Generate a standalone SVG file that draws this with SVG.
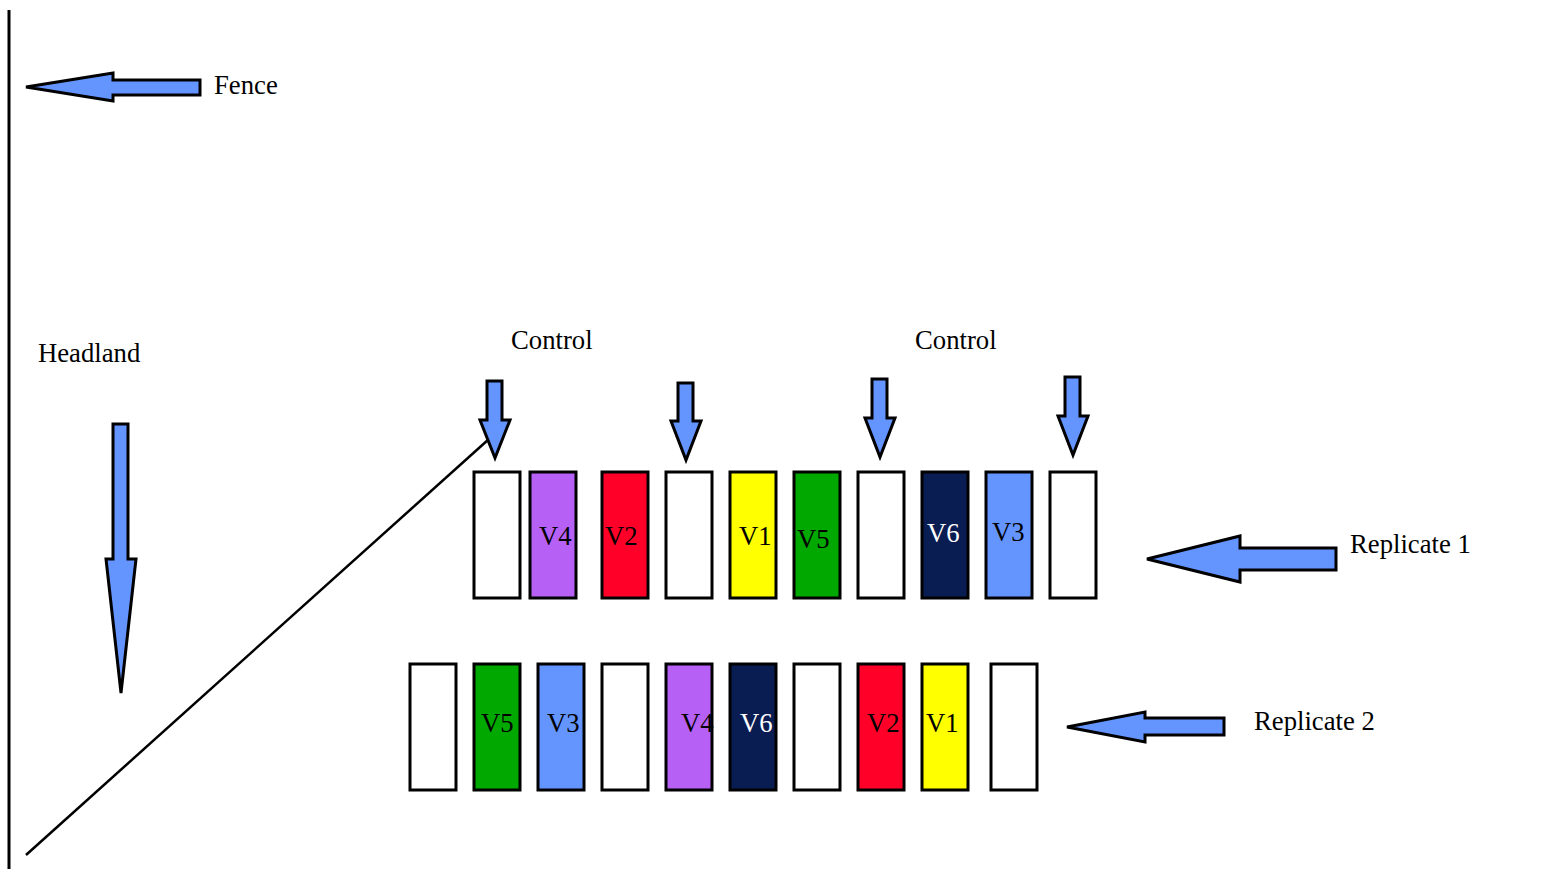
<svg xmlns="http://www.w3.org/2000/svg" width="1542" height="869" viewBox="0 0 1542 869">
<style>
.t{font-family:"Liberation Serif","Times New Roman",serif;font-size:26.7px;fill:#000}
.w{fill:#fff}
.plot{stroke:#000;stroke-width:3}
.arr{fill:#6495ff;stroke:#000;stroke-width:3;stroke-linejoin:miter}
.e{fill:#fff}.p{fill:#b660f5}.r{fill:#ff0028}.y{fill:#ffff00}.g{fill:#00a800}.n{fill:#0a1d52}.b{fill:#6495ff}
</style>
<rect width="1542" height="869" fill="#fff"/>
<g id="fence">
<line x1="9" y1="10" x2="9" y2="869" stroke="#000" stroke-width="3"/>
<polygon class="arr" points="26,87 113,73 113,80 200,80 200,95 113,95 113,101"/>
<text class="t" x="214" y="94">Fence</text>
</g>
<g id="headland">
<text class="t" x="38" y="362">Headland</text>
<polygon class="arr" points="113,424 128,424 128,559 136,559 121,693 106,559 113,559"/>
</g>
<g id="connectors">
<line x1="26" y1="855" x2="489" y2="439" stroke="#000" stroke-width="2.5"/>
</g>
<g id="controls">
<text class="t" x="511" y="349">Control</text>
<text class="t" x="915" y="349">Control</text>
<polygon class="arr" points="487,381 502,381 502,420 510,420 495,458 480,420 487,420"/>
<polygon class="arr" points="678,383 693,383 693,421 701,421 686,460 671,421 678,421"/>
<polygon class="arr" points="872,379 887,379 887,418 895,418 880,457 865,418 872,418"/>
<polygon class="arr" points="1065,377 1080,377 1080,416 1088,416 1073,455 1058,416 1065,416"/>
</g>
<g id="replicate1">
<rect class="plot e" x="474" y="472" width="46" height="126"/>
<rect class="plot p" x="530" y="472" width="46" height="126"/>
<rect class="plot r" x="602" y="472" width="46" height="126"/>
<rect class="plot e" x="666" y="472" width="46" height="126"/>
<rect class="plot y" x="730" y="472" width="46" height="126"/>
<rect class="plot g" x="794" y="472" width="46" height="126"/>
<rect class="plot e" x="858" y="472" width="46" height="126"/>
<rect class="plot n" x="922" y="472" width="46" height="126"/>
<rect class="plot b" x="986" y="472" width="46" height="126"/>
<rect class="plot e" x="1050" y="472" width="46" height="126"/>
<text class="t" x="539" y="545">V4</text>
<text class="t" x="605" y="545">V2</text>
<text class="t" x="739" y="545">V1</text>
<text class="t" x="797" y="548">V5</text>
<text class="t w" x="927" y="542">V6</text>
<text class="t" x="992" y="541">V3</text>
<polygon class="arr" points="1147,559 1240,536 1240,548 1336,548 1336,570 1240,570 1240,582"/>
<text class="t" x="1350" y="553">Replicate 1</text>
</g>
<g id="replicate2">
<rect class="plot e" x="410" y="664" width="46" height="126"/>
<rect class="plot g" x="474" y="664" width="46" height="126"/>
<rect class="plot b" x="538" y="664" width="46" height="126"/>
<rect class="plot e" x="602" y="664" width="46" height="126"/>
<rect class="plot p" x="666" y="664" width="46" height="126"/>
<rect class="plot n" x="730" y="664" width="46" height="126"/>
<rect class="plot e" x="794" y="664" width="46" height="126"/>
<rect class="plot r" x="858" y="664" width="46" height="126"/>
<rect class="plot y" x="922" y="664" width="46" height="126"/>
<rect class="plot e" x="991" y="664" width="46" height="126"/>
<text class="t" x="481" y="732">V5</text>
<text class="t" x="547" y="732">V3</text>
<text class="t" x="681" y="732">V4</text>
<text class="t w" x="740" y="732">V6</text>
<text class="t" x="867" y="732">V2</text>
<text class="t" x="926" y="732">V1</text>
<polygon class="arr" points="1067,727 1145,712 1145,718 1224,718 1224,735 1145,735 1145,742"/>
<text class="t" x="1254" y="730">Replicate 2</text>
</g>
</svg>
